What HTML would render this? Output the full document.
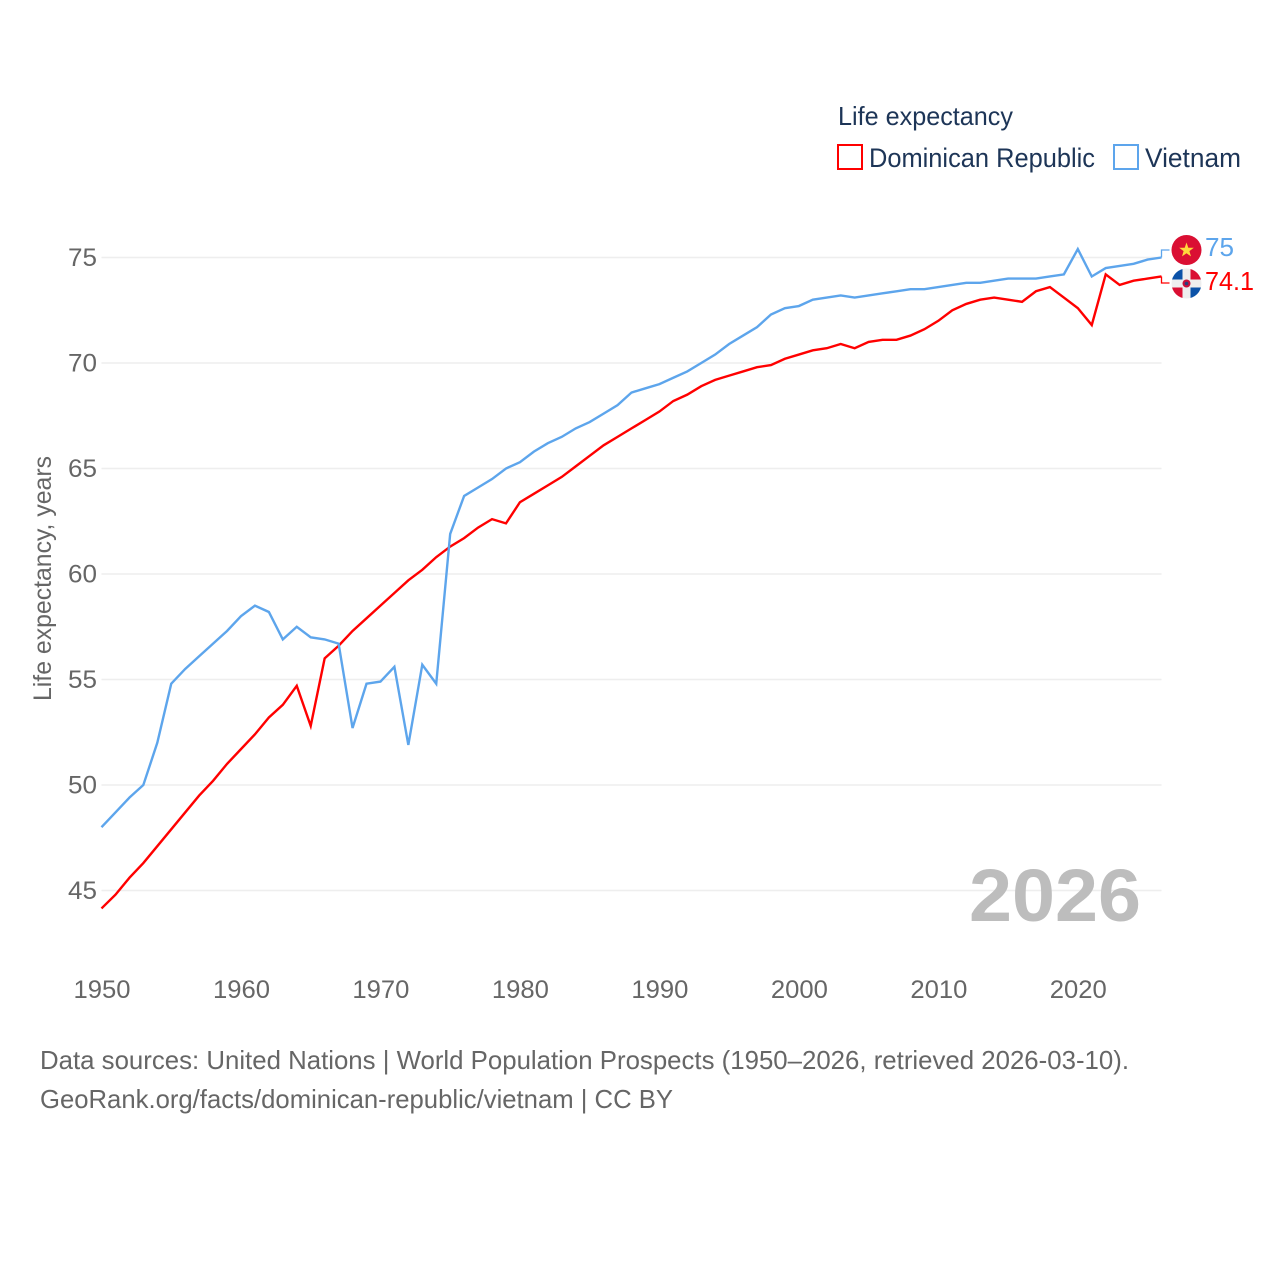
<!DOCTYPE html>
<html lang="en">
<head>
<meta charset="utf-8">
<title>Life expectancy: Dominican Republic and Vietnam</title>
<style>
html,body{margin:0;padding:0;background:#fff}
svg{display:block}
text{font-family:"Liberation Sans",sans-serif}
</style>
</head>
<body>
<svg id="chart" xmlns="http://www.w3.org/2000/svg" width="1280" height="1280" viewBox="0 0 1280 1280">
  <rect width="1280" height="1280" fill="#fff"/>
  <g id="grid"></g>
  <g id="y-ticks"></g>
  <g id="x-ticks"></g>
  <text transform="translate(51,701) rotate(-90)" font-size="25" fill="#666" textLength="245" lengthAdjust="spacingAndGlyphs">Life expectancy, years</text>
  <text x="969" y="921" font-size="74" font-weight="700" fill="#bdbdbd" textLength="172" lengthAdjust="spacingAndGlyphs">2026</text>
  <g id="series"></g>

  <g>
    <text x="838" y="125" font-size="26" fill="#1d3557" textLength="175" lengthAdjust="spacingAndGlyphs">Life expectancy</text>
    <g>
      <rect x="838" y="145" width="24" height="24" fill="#fff" stroke="#ff0000" stroke-width="2"/>
      <text x="869" y="167" font-size="27" fill="#1d3557" textLength="226" lengthAdjust="spacingAndGlyphs">Dominican Republic</text>
    </g>
    <g>
      <rect x="1114" y="145" width="24" height="24" fill="#fff" stroke="#5da5ec" stroke-width="2"/>
      <text x="1145" y="167" font-size="27" fill="#1d3557" textLength="96" lengthAdjust="spacingAndGlyphs">Vietnam</text>
    </g>
  </g>

  <g>
    <circle cx="1186.500" cy="250" r="15" fill="#da0f33"/>
    <polygon fill="#ffd83d" points="1186.500,242.500 1188.300,247.700 1193.800,247.800 1189.400,251.100 1191,256.400 1186.500,253.300 1182,256.400 1183.600,251.100 1179.200,247.800 1184.700,247.700"/>
  </g>
  <g>
    <clipPath id="drClip"><circle cx="1186.500" cy="283.500" r="15"/></clipPath>
    <g clip-path="url(#drClip)">
      <rect x="1171" y="268" width="31" height="31" fill="#eeeeee"/>
      <rect x="1171" y="268" width="11.500" height="11.500" fill="#0b52a8"/>
      <rect x="1190.500" y="268" width="11.500" height="11.500" fill="#da0f33"/>
      <rect x="1171" y="287.500" width="11.500" height="11.500" fill="#da0f33"/>
      <rect x="1190.500" y="287.500" width="11.500" height="11.500" fill="#0b52a8"/>
    </g>
    <circle cx="1186.500" cy="283.500" r="4" fill="#c8103a"/>
    <circle cx="1186.500" cy="283.500" r="1.800" fill="#27417e"/>
  </g>
  <text id="label-vn" x="1205" y="256" font-size="26" fill="#5da5ec" textLength="29" lengthAdjust="spacingAndGlyphs">75</text>
  <text id="label-dr" x="1205" y="290" font-size="26" fill="#ff0000" textLength="49" lengthAdjust="spacingAndGlyphs">74.1</text>

  <g>
    <text x="40" y="1069" font-size="26" fill="#666" textLength="1089" lengthAdjust="spacingAndGlyphs">Data sources: United Nations | World Population Prospects (1950–2026, retrieved 2026-03-10).</text>
    <text x="40" y="1108" font-size="26" fill="#666" textLength="633" lengthAdjust="spacingAndGlyphs">GeoRank.org/facts/dominican-republic/vietnam | CC BY</text>
  </g>
</svg>
<script>
const startYear = 1950;
const dominicanRepublic = [44.15,44.8,45.6,46.3,47.1,47.9,48.7,49.5,50.2,51.0,51.7,52.4,53.2,53.8,54.7,52.8,56.0,56.6,57.3,57.9,58.5,59.1,59.7,60.2,60.8,61.3,61.7,62.2,62.6,62.4,63.4,63.8,64.2,64.6,65.1,65.6,66.1,66.5,66.9,67.3,67.7,68.2,68.5,68.9,69.2,69.4,69.6,69.8,69.9,70.2,70.4,70.6,70.7,70.9,70.7,71.0,71.1,71.1,71.3,71.6,72.0,72.5,72.8,73.0,73.1,73.0,72.9,73.4,73.6,73.1,72.6,71.8,74.2,73.7,73.9,74.0,74.1];
const vietnam = [48.0,48.7,49.4,50.0,52.0,54.8,55.5,56.1,56.7,57.3,58.0,58.5,58.2,56.9,57.5,57.0,56.9,56.7,52.7,54.8,54.9,55.6,51.9,55.7,54.8,61.9,63.7,64.1,64.5,65.0,65.3,65.8,66.2,66.5,66.9,67.2,67.6,68.0,68.6,68.8,69.0,69.3,69.6,70.0,70.4,70.9,71.3,71.7,72.3,72.6,72.7,73.0,73.1,73.2,73.1,73.2,73.3,73.4,73.5,73.5,73.6,73.7,73.8,73.8,73.9,74.0,74.0,74.0,74.1,74.2,75.4,74.1,74.5,74.6,74.7,74.9,75.0];
const yTickValues = [45,50,55,60,65,70,75];
const xTickValues = [1950,1960,1970,1980,1990,2000,2010,2020];

const NS = 'http://www.w3.org/2000/svg';
const plotLeft = 101.5, plotRight = 1161.5;
const xScale = function (year) { return plotLeft + (year - 1950) * (plotRight - plotLeft) / 76; };
const yScale = function (value) { return 890.5 - (value - 45) * 21.1; };

function make(tag, attrs, parent) {
  const el = document.createElementNS(NS, tag);
  Object.keys(attrs).forEach(function (k) { el.setAttribute(k, attrs[k]); });
  parent.appendChild(el);
  return el;
}

const grid = document.getElementById('grid');
const yTicks = document.getElementById('y-ticks');
yTickValues.forEach(function (v) {
  const line = make('line', {x1: plotLeft, x2: plotRight, y1: yScale(v), y2: yScale(v), stroke: '#eeeeee', 'stroke-width': 1.5}, grid);
  
  
  const t = make('text', {x: 97, y: yScale(v) + 8.5, 'text-anchor': 'end', 'font-size': 25, fill: '#666', textLength: 29, lengthAdjust: 'spacingAndGlyphs'}, yTicks);
  
  
  t.textContent = v;
});

const xTicks = document.getElementById('x-ticks');
xTickValues.forEach(function (y) {
  const t = make('text', {x: xScale(y) + 0.5, y: 998, 'text-anchor': 'middle', 'font-size': 25, fill: '#666', textLength: 57, lengthAdjust: 'spacingAndGlyphs'}, xTicks);
  
  
  t.textContent = y;
});

const seriesGroup = document.getElementById('series');
function drawSeries(values, color, flagY, name) {
  const pts = values.map(function (v, i) { return xScale(startYear + i).toFixed(2) + ',' + yScale(v).toFixed(2); });
  const path = make('polyline', {points: pts.join(' '), fill: 'none', stroke: color, 'stroke-width': 2.4, 'stroke-linejoin': 'miter'}, seriesGroup);
  
  
  const endX = xScale(startYear + values.length - 1);
  const endY = yScale(values[values.length - 1]);
  const conn = make('polyline', {points: endX + ',' + endY + ' ' + endX + ',' + flagY + ' ' + (endX + 8) + ',' + flagY, fill: 'none', stroke: color, 'stroke-width': 1.3}, seriesGroup);
  
  
}
drawSeries(dominicanRepublic, '#ff0000', 283, 'line-dominican-republic');
drawSeries(vietnam, '#5da5ec', 250, 'line-vietnam');
</script>
</body>
</html>
